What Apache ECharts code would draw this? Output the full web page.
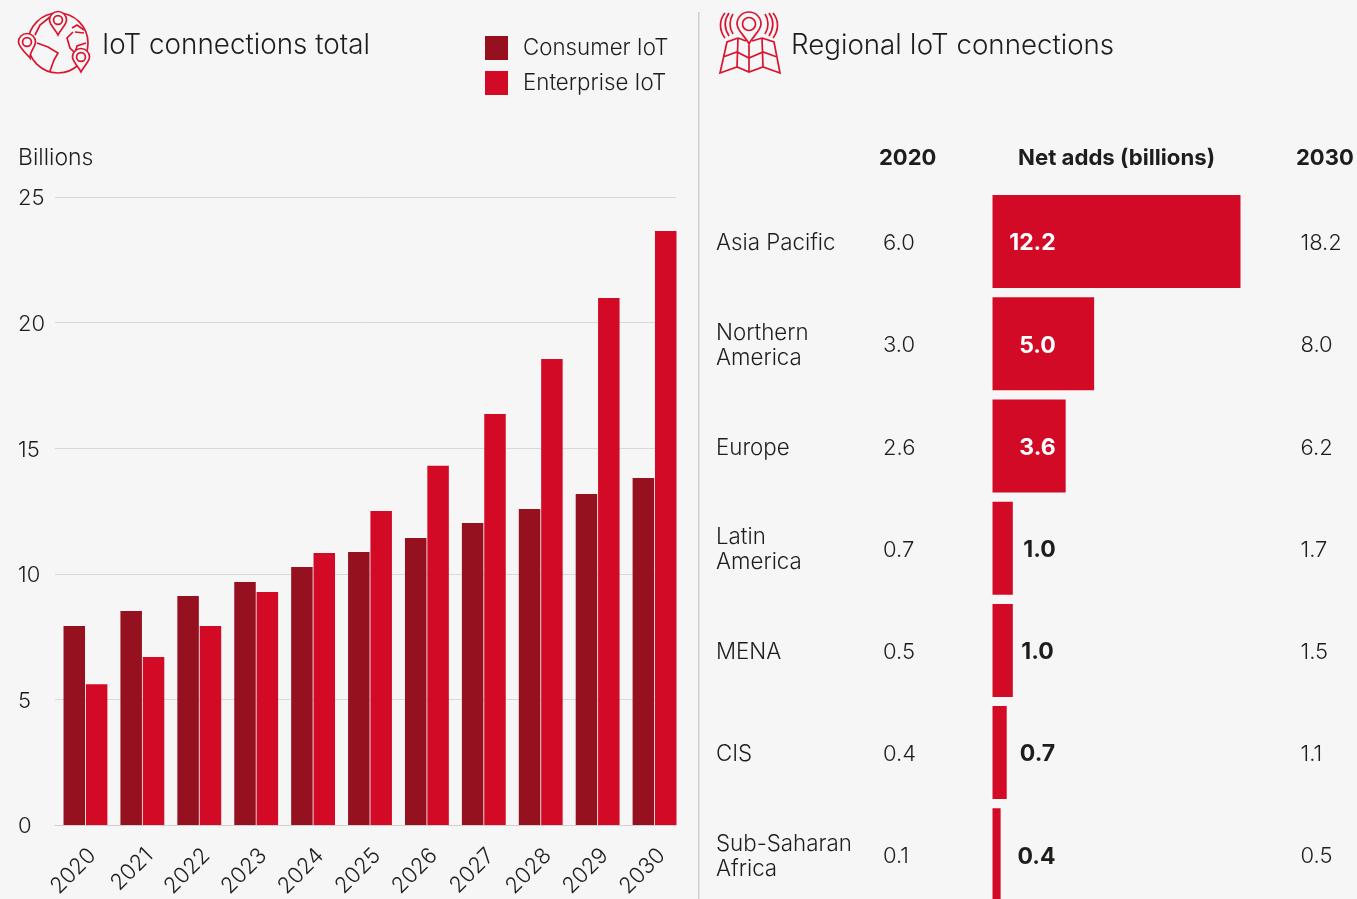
<!DOCTYPE html>
<html><head><meta charset="utf-8">
<style>html,body{margin:0;padding:0;background:#f6f6f6;overflow:hidden}#c{width:1357px;height:899px}</style>
<script src="https://cdn.jsdelivr.net/npm/echarts@6/dist/echarts.min.js"></script></head>
<body><div id="c"></div>
<script>
const years=['2020','2021','2022','2023','2024','2025','2026','2027','2028','2029','2030'];
const consumerIoT=[7.92,8.52,9.12,9.67,10.27,10.87,11.43,12.02,12.58,13.18,13.81];
const enterpriseIoT=[5.6,6.69,7.92,9.28,10.83,12.5,14.3,16.36,18.55,20.98,23.65];
const regions=['Asia Pacific','Northern\nAmerica','Europe','Latin\nAmerica','MENA','CIS','Sub-Saharan\nAfrica'];
const conn2020=['6.0','3.0','2.6','0.7','0.5','0.4','0.1'];
const netAdds=[12.2,5.0,3.6,1.0,1.0,0.7,0.4];
const conn2030=['18.2','8.0','6.2','1.7','1.5','1.1','0.5'];

const FONT='Inter', INK='#1d1d1b', DARK='#95111f', RED='#d30a26';
const txt=(x,y,text,size,weight,extra)=>({type:'text',x,y,silent:true,style:Object.assign({text,fontSize:size,fontWeight:weight||300,fontFamily:FONT,fill:INK,textVerticalAlign:'middle'},extra||{})});
let icoN=0;
const ico=(d,fill)=>{const name='icon'+(icoN++);echarts.graphic.registerShape(name,echarts.graphic.extendPath(d,{}));
  return {type:name,silent:true,style:{fill:fill||'none',stroke:'#d9142f',lineWidth:1.7}};};
const pin=(x,y,r,h,ir,dx)=>{dx=dx||0;const k=r*0.55,t=x+dx;ir=ir||r*0.52;
  return `M${t} ${y+h}C${x-r*0.3} ${y+h*0.62} ${x-r} ${y+k} ${x-r} ${y}A${r} ${r} 0 1 1 ${x+r} ${y}C${x+r} ${y+k} ${x+r*0.3} ${y+h*0.62} ${t} ${y+h}Z`+
  `M${x-ir} ${y}A${ir} ${ir} 0 1 1 ${x+ir} ${y}A${ir} ${ir} 0 1 1 ${x-ir} ${y}Z`;};
const labelCentre=[40,45,45,47,45,45,44];
const axisText={fontFamily:FONT,fontSize:22,fontWeight:300,color:INK};

const option={
  backgroundColor:'#f6f6f6',animation:false,
  textStyle:{fontFamily:FONT},
  legend:{left:485,top:36,padding:0,orient:'vertical',itemWidth:23,itemHeight:24,itemGap:11,icon:'rect',selectedMode:false,
    data:['Consumer IoT','Enterprise IoT'],
    textStyle:{fontFamily:FONT,fontSize:22.3,fontWeight:300,color:INK,padding:[2,0,0,10]}},
  grid:[
    {left:55,top:197,width:621,height:628,outerBoundsMode:'none'},
    {left:57,top:197,width:626,height:628,outerBoundsMode:'none'},
    {left:992.5,top:190.5,width:248,height:715.4,outerBoundsMode:'none'},
    {left:992.5,top:192.5,width:248,height:715.4,outerBoundsMode:'none'}
  ],
  xAxis:[
    {gridIndex:0,type:'value',min:0,max:1,splitLine:{show:false},axisTick:{show:false},axisLabel:{show:false},axisLine:{show:true,onZero:false,lineStyle:{color:'#cfcfcf',width:1}}},
    {gridIndex:1,type:'category',data:years,axisLine:{show:false},axisTick:{show:false},
      axisLabel:Object.assign({interval:0,rotate:45,margin:20,verticalAlign:'top',lineHeight:20},axisText)},
    {gridIndex:2,type:'value',min:0,max:12.2,show:false},
    {gridIndex:3,type:'value',min:0,max:12.2,show:false}
  ],
  yAxis:[
    {gridIndex:0,type:'value',min:0,max:25,interval:5,axisLine:{show:false},axisTick:{show:false},
      splitLine:{lineStyle:{color:'#d9d9d9',width:1}},
      axisLabel:Object.assign({align:'left',margin:37,verticalAlign:'top',lineHeight:3.6},axisText)},
    {gridIndex:1,type:'value',min:0,max:25,show:false},
    {gridIndex:2,type:'category',inverse:true,data:regions,show:false},
    {gridIndex:3,type:'category',inverse:true,data:regions,axisLine:{show:false},axisTick:{show:false},
      axisLabel:Object.assign({align:'left',margin:276.5,lineHeight:25},axisText,{fontSize:22.3})},
    {gridIndex:3,type:'category',inverse:true,data:regions,axisLine:{show:false},axisTick:{show:false},position:'left',
      axisLabel:Object.assign({align:'left',margin:109.5,formatter:(v,i)=>conn2020[i]},axisText)},
    {gridIndex:3,type:'category',inverse:true,data:regions,axisLine:{show:false},axisTick:{show:false},position:'right',
      axisLabel:Object.assign({align:'left',margin:60,formatter:(v,i)=>conn2030[i]},axisText)}
  ],
  series:[
    {name:'Consumer IoT',type:'bar',xAxisIndex:1,yAxisIndex:1,data:consumerIoT,barWidth:21.5,barGap:'4%',itemStyle:{color:DARK}},
    {name:'Enterprise IoT',type:'bar',xAxisIndex:1,yAxisIndex:1,data:enterpriseIoT,barWidth:21.5,barGap:'4%',itemStyle:{color:RED}},
    {name:'Net adds',type:'bar',xAxisIndex:2,yAxisIndex:2,barWidth:93,itemStyle:{color:RED},
      data:netAdds.map((v,i)=>({value:v,label:{show:true,position:[labelCentre[i],'52%'],align:'center',verticalAlign:'middle',
        formatter:v.toFixed(1),fontFamily:FONT,fontSize:23,fontWeight:700,color:v>=3?'#fff':INK}}))}
  ],
  graphic:[
    {type:'rect',silent:true,shape:{x:698,y:12,width:1.5,height:887},style:{fill:'#cfcfcf'}},
    txt(102,46,'IoT connections total',27.8),
    txt(791,46,'Regional IoT connections',27.7),
    txt(18,158,'Billions',23),
    txt(879,158.5,'2020',22,700),
    txt(1018,158.5,'Net adds (billions)',22.2,700),
    txt(1296,158.5,'2030',22,700),
    ico('M28 43A30 30 0 1 1 88 43A30 30 0 1 1 28 43Z'),
    ico('M37 43L48 47L58 53L54 60L50 71M35 35L40 25L50 17M73 32L67 38L70 48L75 53L77 46L86 43M84 33L75 32M72 28L77 25L84 30'),
    ico(pin(58,20,8.5,15),'#f6f6f6'),ico(pin(27,42,8.5,16,0,3),'#f6f6f6'),ico(pin(81,57,8.5,15),'#f6f6f6'),
    ico(pin(749,24,12,20,6.5)),
    ico('M738 38L727 42L720 73L737 67L749 72L763 67L780 73L774 42L762 38M738 38L737 67M749 45L749 72M762 38L763 67M723 57L737 52L749 58L763 52L777 57M738 38L746 41M762 38L752 41'),
    ico('M733 14C729 20 729 28 733 34M729 13C724 20 724 28 729 36M725 13C719 20 719 30 725 38M765 14C769 20 769 28 765 34M769 13C774 20 774 28 769 36M773 13C779 20 779 30 773 38')
  ]
};
echarts.init(document.getElementById('c'),null,{renderer:'canvas'}).setOption(option);
</script></body></html>
